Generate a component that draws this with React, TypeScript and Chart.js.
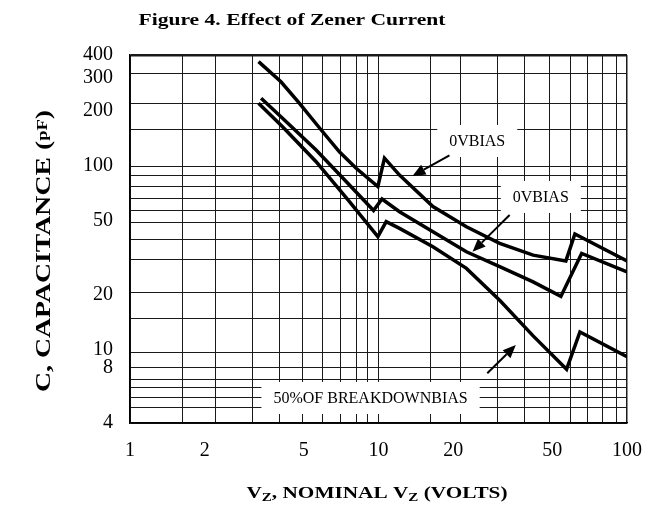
import React, { useEffect, useRef } from "react";
import { Chart, registerables } from "chart.js";

Chart.register(...registerables);

// ---- curve data (V_Z volts, capacitance pF) ----
const topVolts = [3.29, 4.05, 4.8, 5.87, 6.96, 8.13, 9.94, 10.57, 12.15, 16.56, 22.58, 30.74, 41.9, 56.76, 61.71, 100];
const topCap = [368, 286, 219, 157, 119, 97, 77, 110, 89, 60, 46.6, 37.9, 32.7, 30.4, 42.6, 30.4];

const midVolts = [3.37, 4.11, 5.61, 7.64, 9.55, 10.33, 12.15, 16.56, 22.58, 30.74, 41.9, 54.19, 65.68, 100];
const midCap = [232.6, 181.2, 121.8, 78.6, 57.1, 66.0, 56.3, 43.8, 34.1, 28.3, 23.4, 19.5, 33.4, 26.5];

const lowVolts = [3.29, 4.11, 5.61, 7.64, 9.94, 10.74, 12.15, 16.56, 22.58, 30.74, 41.9, 57.13, 64.65, 100];
const lowCap = [218.6, 163.1, 105.2, 63.8, 41.2, 49.7, 45.7, 36.3, 27.7, 18.6, 11.9, 7.83, 12.5, 9.17];

// ---- axes ----
const xGridValues = [1, 1.62, 2.2, 3.1, 4, 4.94, 5.94, 7, 8.13, 9.05, 10, 16.2, 21.4, 30.1, 38.8, 48.9, 59.4, 69.6, 80, 90.8, 100];
const xLabelValues = [1, 2, 5, 10, 20, 50, 100];
const yGridValues = [4, 4.87, 5.5, 6.2, 6.9, 8, 9.7, 14.8, 20.4, 31.1, 39.8, 49, 57, 66, 77, 89, 98.5, 158, 217, 316, 400];
const yLabelValues = [4, 8, 10, 20, 50, 100, 200, 300, 400];

// ---- annotations ----
const noteTexts = ["0VBIAS", "0VBIAS", "50%OF BREAKDOWNBIAS"];
const noteVolts = [24.96, 45.0, 9.29];
const noteCap = [136.3, 67.7, 5.47];

const arrowFromVolts = [19.3, 33.7, 27.4];
const arrowFromCap = [114, 54, 7.45];
const arrowToVolts = [13.7, 23.9, 35.7];
const arrowToCap = [88, 34.1, 10.6];

const TITLE = "Figure 4. Effect of Zener Current";
const X_TITLE = [
  { t: "V", sub: false },
  { t: "Z", sub: true },
  { t: ", NOMINAL V", sub: false },
  { t: "Z", sub: true },
  { t: " (VOLTS)", sub: false },
];
const Y_TITLE = [
  { t: "C, CAPACITANCE (", sub: false },
  { t: "pF", sub: true },
  { t: ")", sub: false },
];

const SERIF = "'Liberation Serif', 'Times New Roman', Times, serif";

function drawSegments(
  ctx: CanvasRenderingContext2D,
  segs: { t: string; sub: boolean }[],
  mainFont: string,
  subFont: string,
  subShift: number,
  targetW: number
) {
  let total = 0;
  const widths = segs.map((s) => {
    ctx.font = s.sub ? subFont : mainFont;
    const w = ctx.measureText(s.t).width;
    total += w;
    return w;
  });
  const sx = targetW / total;
  ctx.scale(sx, 1);
  let x = 0;
  segs.forEach((s, i) => {
    ctx.font = s.sub ? subFont : mainFont;
    ctx.fillText(s.t, x, s.sub ? subShift : 0);
    x += widths[i];
  });
}

const decorPlugin = {
  id: "decor",
  beforeDatasetsDraw(chart: any) {
    const ctx: CanvasRenderingContext2D = chart.ctx;
    const xs = chart.scales.x;
    const ys = chart.scales.y;
    ctx.save();
    ctx.font = `16px ${SERIF}`;
    ctx.textAlign = "center";
    ctx.textBaseline = "middle";
    noteTexts.forEach((t, i) => {
      const cx = xs.getPixelForValue(noteVolts[i]);
      const cy = ys.getPixelForValue(noteCap[i]);
      const w = ctx.measureText(t).width + 24;
      const h = 32;
      ctx.fillStyle = "#fff";
      ctx.fillRect(cx - w / 2, cy - h / 2, w, h);
      ctx.fillStyle = "#000";
      ctx.fillText(t, cx, cy + 1);
    });
    ctx.restore();
  },
  afterDatasetsDraw(chart: any) {
    const ctx: CanvasRenderingContext2D = chart.ctx;
    const xs = chart.scales.x;
    const ys = chart.scales.y;
    ctx.save();
    ctx.strokeStyle = "#000";
    ctx.fillStyle = "#000";
    ctx.lineWidth = 2;
    arrowFromVolts.forEach((_, i) => {
      const x1 = xs.getPixelForValue(arrowFromVolts[i]);
      const y1 = ys.getPixelForValue(arrowFromCap[i]);
      const x2 = xs.getPixelForValue(arrowToVolts[i]);
      const y2 = ys.getPixelForValue(arrowToCap[i]);
      const ang = Math.atan2(y2 - y1, x2 - x1);
      const headLen = 13;
      const headW = 5.5;
      const bx = x2 - headLen * Math.cos(ang);
      const by = y2 - headLen * Math.sin(ang);
      ctx.beginPath();
      ctx.moveTo(x1, y1);
      ctx.lineTo(bx, by);
      ctx.stroke();
      ctx.beginPath();
      ctx.moveTo(x2, y2);
      ctx.lineTo(bx + headW * Math.sin(ang), by - headW * Math.cos(ang));
      ctx.lineTo(bx - headW * Math.sin(ang), by + headW * Math.cos(ang));
      ctx.closePath();
      ctx.fill();
    });
    ctx.restore();
  },
  afterDraw(chart: any) {
    const ctx: CanvasRenderingContext2D = chart.ctx;
    ctx.save();
    ctx.fillStyle = "#000";
    ctx.textBaseline = "alphabetic";
    ctx.textAlign = "left";

    // chart title
    ctx.save();
    ctx.translate(138.5, 25);
    drawSegments(ctx, [{ t: TITLE, sub: false }], `bold 17px ${SERIF}`, `bold 17px ${SERIF}`, 0, 307);
    ctx.restore();

    // x-axis title
    ctx.save();
    ctx.translate(246.5, 498);
    drawSegments(ctx, X_TITLE, `bold 17px ${SERIF}`, `bold 12px ${SERIF}`, 3, 261);
    ctx.restore();

    // y-axis title
    ctx.save();
    ctx.translate(50, 392);
    ctx.rotate(-Math.PI / 2);
    drawSegments(ctx, Y_TITLE, `bold 21px ${SERIF}`, `bold 14px ${SERIF}`, -3, 282);
    ctx.restore();

    ctx.restore();
  },
};

export default function App() {
  const ref = useRef<HTMLCanvasElement>(null);

  useEffect(() => {
    const canvas = ref.current;
    if (!canvas) return;

    const xTicks = Array.from(new Set([...xGridValues, ...xLabelValues])).sort((a, b) => a - b);
    const yTicks = Array.from(new Set([...yGridValues, ...yLabelValues])).sort((a, b) => a - b);

    const mk = (v: number[], c: number[]) => v.map((x, i) => ({ x, y: c[i] }));
    const lineStyle = {
      borderColor: "#000",
      backgroundColor: "#000",
      borderWidth: 3.5,
      pointRadius: 0,
      fill: false,
      tension: 0,
    };

    const chart = new Chart(canvas, {
      type: "line",
      data: {
        datasets: [
          { label: "top", data: mk(topVolts, topCap), ...lineStyle },
          { label: "mid", data: mk(midVolts, midCap), ...lineStyle },
          { label: "low", data: mk(lowVolts, lowCap), ...lineStyle },
        ],
      },
      options: {
        animation: false,
        responsive: false,
        events: [],
        layout: { padding: { left: 0, right: 22, top: 55, bottom: 0 } },
        plugins: {
          legend: { display: false },
          tooltip: { enabled: false },
          title: { display: false },
        },
        scales: {
          x: {
            type: "logarithmic",
            position: "bottom",
            min: 1,
            max: 100,
            afterBuildTicks: (s: any) => {
              s.ticks = xTicks.map((v) => ({ value: v }));
            },
            afterFit: (s: any) => {
              s.height = 83;
              s.paddingLeft = 0;
              s.paddingRight = 0;
            },
            ticks: {
              autoSkip: false,
              maxRotation: 0,
              padding: 16,
              color: "#000",
              font: { family: SERIF, size: 20 },
              callback: (v: any) => (xLabelValues.includes(Number(v)) ? String(v) : ""),
            },
            grid: {
              drawTicks: false,
              color: (c: any) =>
                c.tick && xGridValues.includes(c.tick.value) ? "#1a1a1a" : "rgba(0,0,0,0)",
              lineWidth: (c: any) => (c.tick && c.tick.value === 100 ? 1.5 : 1),
            },
            border: { display: true, color: "#000", width: 1.5 },
          },
          y: {
            type: "logarithmic",
            position: "left",
            min: 4,
            max: 400,
            afterBuildTicks: (s: any) => {
              s.ticks = yTicks.map((v) => ({ value: v }));
            },
            afterFit: (s: any) => {
              s.width = 130;
              s.paddingTop = 0;
              s.paddingBottom = 0;
            },
            ticks: {
              autoSkip: false,
              padding: 17,
              color: "#000",
              font: { family: SERIF, size: 20 },
              callback: (v: any) => (yLabelValues.includes(Number(v)) ? String(v) : ""),
            },
            grid: {
              drawTicks: false,
              color: (c: any) =>
                c.tick && yGridValues.includes(c.tick.value) ? "#1a1a1a" : "rgba(0,0,0,0)",
              lineWidth: (c: any) => (c.tick && c.tick.value === 400 ? 2.5 : 1),
            },
            border: { display: true, color: "#000", width: 1.5 },
          },
        },
      },
      plugins: [decorPlugin],
    } as any);

    return () => chart.destroy();
  }, []);

  return (
    <div style={{ position: "fixed", left: 0, top: 0, width: 649, height: 506, background: "#fff" }}>
      <canvas ref={ref} width={649} height={506} style={{ display: "block", width: 649, height: 506 }} />
    </div>
  );
}
